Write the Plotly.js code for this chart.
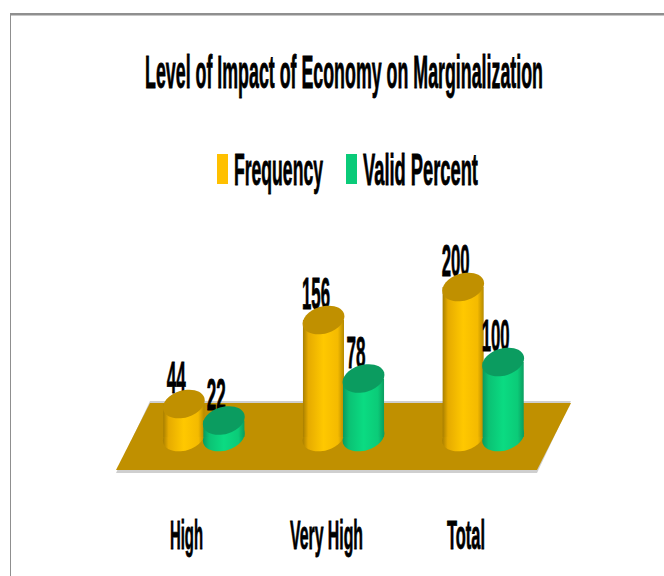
<!DOCTYPE html>
<html>
<head>
<meta charset="utf-8">
<script src="https://cdn.plot.ly/plotly-3.0.1.min.js"></script>
<style>html,body{margin:0;padding:0;background:#fff}#chart{width:664px;height:576px}</style>
</head>
<body>
<div id="chart"></div>
<script>
const chartTitle = "Level of Impact of Economy on Marginalization";
const categories = ["High", "Very High", "Total"];
const frequency = [44, 156, 200];
const validPercent = [22, 78, 100];

const FONT = '"Liberation Sans", Arial, sans-serif';
const pxPerCat = 139.5, barPx = 41;

function ellipsePath(cx, a, b, deg) {
  const t = deg * Math.PI / 180, k = 0.5523;
  const P = (u, v) => {
    const x = u * a, y = v * b;
    return (cx + x * Math.cos(t) - y * Math.sin(t)).toFixed(2) + ',' + (x * Math.sin(t) + y * Math.cos(t)).toFixed(2);
  };
  return 'M' + P(1, 0) +
    'C' + P(1, k) + ' ' + P(k, 1) + ' ' + P(0, 1) +
    'C' + P(-k, 1) + ' ' + P(-1, k) + ' ' + P(-1, 0) +
    'C' + P(-1, -k) + ' ' + P(-k, -1) + ' ' + P(0, -1) +
    'C' + P(k, -1) + ' ' + P(1, -k) + ' ' + P(1, 0) + 'Z';
}
function anchored(x, y, path, fill, layer) {
  return {type: 'path', xref: 'x', yref: 'y', xsizemode: 'pixel', ysizemode: 'pixel',
    xanchor: x, yanchor: y, path: path, fillcolor: fill, line: {width: 0}, layer: layer};
}
function paperPath(path, fill) {
  return {type: 'path', xref: 'paper', yref: 'paper', xsizemode: 'pixel', ysizemode: 'pixel',
    xanchor: 0, yanchor: 0, path: path, fillcolor: fill, line: {width: 0}, layer: 'below'};
}

const shapes = [
  paperPath('M-124,467H530V464.5H-124Z', '#8f8f8f'),
  paperPath('M-124,467H-123V-96H-124Z', '#8f8f8f'),
  paperPath('M16,79L437,79L403,7L-18,7Z', '#cfcfcf'),
  paperPath('M16,77L437,77L403,10L-18,10Z', '#C09000')
];
const gradientShapes = [];
const series = [
  {vals: frequency, dx: -20, top: '#C09000', grad: 'gradOrange'},
  {vals: validPercent, dx: 20, top: '#0B9C60', grad: 'gradGreen'}
];
series.forEach(s => {
  categories.forEach((c, i) => {
    gradientShapes.push({index: shapes.length, grad: s.grad});
    shapes.push(anchored(c, 0, ellipsePath(s.dx, 21.5, 13.5, 17), '#FFC000', 'below'));
    shapes.push(anchored(c, s.vals[i], ellipsePath(s.dx, 21.5, 13.5, 17), s.top, 'above'));
  });
});

const traces = [
  {type: 'bar', name: 'Frequency', x: categories, y: frequency, text: frequency.map(String),
   width: barPx / pxPerCat, offset: -40.5 / pxPerCat, marker: {color: '#FFC000'}},
  {type: 'bar', name: 'Valid Percent', x: categories, y: validPercent, text: validPercent.map(String),
   width: barPx / pxPerCat, offset: -0.5 / pxPerCat, marker: {color: '#0ACB79'}}
].map(t => Object.assign(t, {textposition: 'outside', textangle: 0, constraintext: 'none', cliponaxis: false,
   textfont: {family: FONT, size: 45, color: '#000', weight: 700}, hoverinfo: 'x+y+name'}));

const layout = {
  width: 664, height: 576, autosize: false,
  margin: {l: 134, r: 111, t: 240, b: 96, pad: 0},
  paper_bgcolor: '#fff', plot_bgcolor: 'rgba(0,0,0,0)',
  barmode: 'overlay',
  title: {text: chartTitle, font: {family: FONT, size: 47, color: '#000', weight: 700}, x: 0.5, xref: 'paper', y: 0.9},
  xaxis: {type: 'category', categoryorder: 'array', categoryarray: categories, range: [-0.5, 2.5], showgrid: false, zeroline: false,
    showline: false, ticks: '', tickangle: 0, tickfont: {family: FONT, size: 40, color: '#000', weight: 700}},
  yaxis: {range: [-57.33, 262.67], visible: false, fixedrange: true},
  showlegend: true,
  legend: {orientation: 'h', x: 0, y: 1.2, entrywidth: 100, entrywidthmode: 'pixels', bgcolor: 'rgba(0,0,0,0)',
    font: {family: FONT, size: 45, color: '#000', weight: 700}},
  shapes: shapes
};

function place(el, cx, cy, w, dxy) {
  const existing = el.getAttribute('transform') || '';
  const b = el.getBBox();
  const r = el.getBoundingClientRect();
  const sx = w / r.width;
  const dx = dxy ? dxy[0] : cx - (r.left + r.width / 2);
  const dy = dxy ? dxy[1] : cy - (r.top + r.height / 2);
  const bx = b.x + b.width / 2, by = b.y + b.height / 2;
  el.setAttribute('transform', `translate(${dx},${dy}) ${existing} translate(${bx},${by}) scale(${sx},1) translate(${-bx},${-by})`);
  el.style.stroke = '#000';
  el.style.strokeWidth = '0.8px';
}
function addGradient(defs, id, stops) {
  const ns = 'http://www.w3.org/2000/svg';
  const g = document.createElementNS(ns, 'linearGradient');
  g.setAttribute('id', id);
  g.setAttribute('x1', '0'); g.setAttribute('x2', '1'); g.setAttribute('y1', '0'); g.setAttribute('y2', '0');
  stops.forEach(s => {
    const st = document.createElementNS(ns, 'stop');
    st.setAttribute('offset', s[0]); st.setAttribute('stop-color', s[1]);
    g.appendChild(st);
  });
  defs.appendChild(g);
}

const gd = document.getElementById('chart');
Plotly.newPlot(gd, traces, layout, {displayModeBar: false, responsive: false}).then(() => {
  const defs = gd.querySelector('svg.main-svg defs');
  addGradient(defs, 'gradOrange', [[0, '#A87F00'], [0.13, '#E6AB00'], [0.5, '#FFC800'], [0.85, '#F4BA00'], [1, '#B58A00']]);
  addGradient(defs, 'gradGreen', [[0, '#0A9A5E'], [0.15, '#0BC274'], [0.5, '#0BDB82'], [0.85, '#0BCB78'], [1, '#0A9E60']]);
  const traceEls = gd.querySelectorAll('.barlayer .trace');
  ['gradOrange', 'gradGreen'].forEach((id, i) => {
    traceEls[i].querySelectorAll('.point path').forEach(p => p.style.setProperty('fill', `url(#${id})`));
  });
  gradientShapes.forEach(s => {
    const p = gd.querySelector(`.layer-below .shapelayer path[data-index="${s.index}"]`) ||
              gd.querySelector(`.shapelayer path[data-index="${s.index}"]`);
    if (p) p.style.setProperty('fill', `url(#${s.grad})`);
  });

  place(gd.querySelector('.gtitle'), 344, 72, 398);

  const tickTargets = [[186.5, 33], [326.5, 73], [466, 38]];
  gd.querySelectorAll('.xtick text').forEach((t, i) => place(t, tickTargets[i][0], 535, tickTargets[i][1]));

  const labelW = [[19, 28, 28], [19, 19, 28]];
  traceEls.forEach((tr, k) => {
    tr.querySelectorAll('.bartext').forEach((t, i) => place(t, 0, 0, labelW[k][i], [-7.5, 2]));
  });

  const sc = gd.querySelector('.legend .scrollbox');
  if (sc) sc.removeAttribute('clip-path');
  const legT = gd.querySelectorAll('.legend .traces');
  const legTargets = [[278.5, 169, 89, 222.5], [420.5, 169, 115, 351.5]];
  legT.forEach((g, i) => {
    place(g.querySelector('.legendtext'), legTargets[i][0], legTargets[i][1], legTargets[i][2]);
    const sw = g.querySelector('.legendpoints path');
    sw.setAttribute('d', 'M5.5,15H-5.5V-15H5.5Z');
    const r = sw.getBoundingClientRect();
    const old = sw.getAttribute('transform') || '';
    sw.setAttribute('transform', `translate(${legTargets[i][3] - (r.left + r.width / 2)},${169 - (r.top + r.height / 2)}) ${old}`);
    sw.style.setProperty('stroke-width', '0');
  });
});
</script>
</body>
</html>
